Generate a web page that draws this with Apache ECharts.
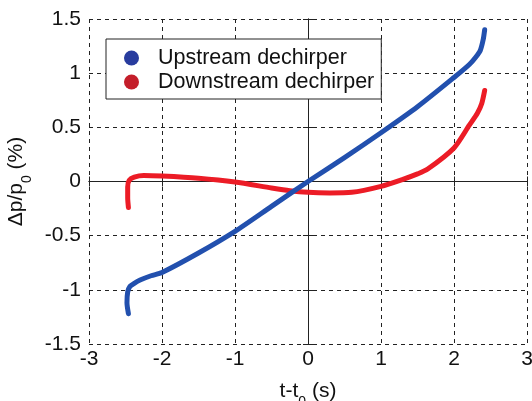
<!DOCTYPE html>
<html>
<head>
<meta charset="utf-8">
<script src="https://cdn.jsdelivr.net/npm/echarts@6/dist/echarts.min.js"></script>
<style>
html,body{margin:0;padding:0;background:#fff;}
#c{width:532px;height:401px;}
</style>
</head>
<body>
<div id="c"></div>
<script>
// Upstream dechirper (blue)
const upX = [-2.46, -2.48, -2.47, -2.44, -2.38, -2.30, -2.15, -2.00, -1.50, -1.00, -0.50, 0.00, 0.50, 1.00, 1.50, 2.00, 2.21, 2.30, 2.36, 2.40, 2.42];
const upY = [-1.22, -1.12, -1.02, -0.97, -0.94, -0.91, -0.87, -0.84, -0.66, -0.46, -0.23, 0.00, 0.22, 0.45, 0.69, 0.96, 1.08, 1.15, 1.21, 1.31, 1.40];
// Downstream dechirper (red)
const downX = [-2.46, -2.47, -2.47, -2.45, -2.38, -2.25, -2.00, -1.50, -1.00, -0.50, -0.25, 0.00, 0.30, 0.60, 1.00, 1.30, 1.50, 1.64, 2.00, 2.21, 2.32, 2.38, 2.42];
const downY = [-0.24, -0.15, -0.05, 0.01, 0.04, 0.055, 0.05, 0.03, -0.005, -0.06, -0.085, -0.10, -0.105, -0.10, -0.045, 0.02, 0.07, 0.115, 0.31, 0.52, 0.63, 0.72, 0.84];
const seriesNames = ['Upstream dechirper', 'Downstream dechirper'];
const xTicks = [-3, -2, -1, 0, 1, 2, 3];
const yTicks = [-1.5, -1, -0.5, 0, 0.5, 1, 1.5];

const upData = upX.map((x, i) => [x, upY[i]]);
const downData = downX.map((x, i) => [x, downY[i]]);

const FONT = '"Liberation Sans", Arial, sans-serif';
const chart = echarts.init(document.getElementById('c'), null, {renderer: 'canvas'});
const axisCommon = {
  axisLine: {show: true, lineStyle: {color: '#222', width: 1}},
  axisTick: {show: true, inside: true, length: 5, lineStyle: {color: '#222'}}
};
const nameRich = {
  m: {fontFamily: FONT, fontSize: 21, color: '#111', lineHeight: 34, verticalAlign: 'top', padding: [6, 0, 0, 0]},
  s: {fontFamily: FONT, fontSize: 14, color: '#111', lineHeight: 14, verticalAlign: 'bottom'}
};
chart.setOption({
  animation: false,
  backgroundColor: '#fff',
  grid: {left: 89, right: 5, top: 19, bottom: 57, containLabel: false, outerBoundsMode: 'none'},
  legend: {
    orient: 'vertical',
    left: 106, top: 39,
    padding: [8, 7, 6, 18],
    itemGap: 2,
    itemWidth: 15, itemHeight: 15,
    icon: 'circle',
    borderColor: '#222', borderWidth: 1,
    backgroundColor: '#fff',
    textStyle: {fontFamily: FONT, fontSize: 21.5, lineHeight: 22, color: '#111', padding: [0, 0, 0, 14]},
    data: [
      {name: seriesNames[0], itemStyle: {color: '#283c9e'}},
      {name: seriesNames[1], itemStyle: {color: '#c41e2a'}}
    ]
  },
  xAxis: [{
    type: 'value', min: xTicks[0], max: xTicks[xTicks.length - 1], interval: 1,
    position: 'bottom',
    ...axisCommon,
    axisLabel: {fontFamily: FONT, fontSize: 21, color: '#111', margin: 5},
    splitLine: {show: true, lineStyle: {color: '#222', type: [4, 4], width: 1}},
    name: '{m|t-t}{s|0}{m| (s)}',
    nameLocation: 'middle', nameGap: 15,
    nameTextStyle: {rich: nameRich}
  }, {
    type: 'value', min: xTicks[0], max: xTicks[xTicks.length - 1], interval: 1,
    position: 'top',
    ...axisCommon,
    axisLabel: {show: false},
    splitLine: {show: false}
  }],
  yAxis: [{
    type: 'value', min: yTicks[0], max: yTicks[yTicks.length - 1], interval: 0.5,
    position: 'left',
    ...axisCommon,
    axisLabel: {fontFamily: FONT, fontSize: 21, color: '#111', margin: 8},
    splitLine: {show: true, lineStyle: {color: '#222', type: [4, 4], width: 1}},
    name: '{m|\u0394p/p}{s|0}{m| (%)}',
    nameLocation: 'middle', nameGap: 40,
    nameTextStyle: {rich: nameRich}
  }, {
    type: 'value', min: yTicks[0], max: yTicks[yTicks.length - 1], interval: 0.5,
    position: 'right',
    ...axisCommon,
    axisLabel: {show: false},
    splitLine: {show: false}
  }],
  series: [{
    name: seriesNames[0], type: 'line', data: upData,
    showSymbol: false, symbol: 'none', smooth: 0.25,
    color: '#2250ae',
    lineStyle: {width: 5, color: '#2250ae', cap: 'round', join: 'round'},
    z: 3
  }, {
    name: seriesNames[1], type: 'line', data: downData,
    showSymbol: false, symbol: 'none', smooth: 0.25,
    color: '#ec1c26',
    lineStyle: {width: 5, color: '#ec1c26', cap: 'round', join: 'round'},
    z: 2
  }]
});
</script>
</body>
</html>
